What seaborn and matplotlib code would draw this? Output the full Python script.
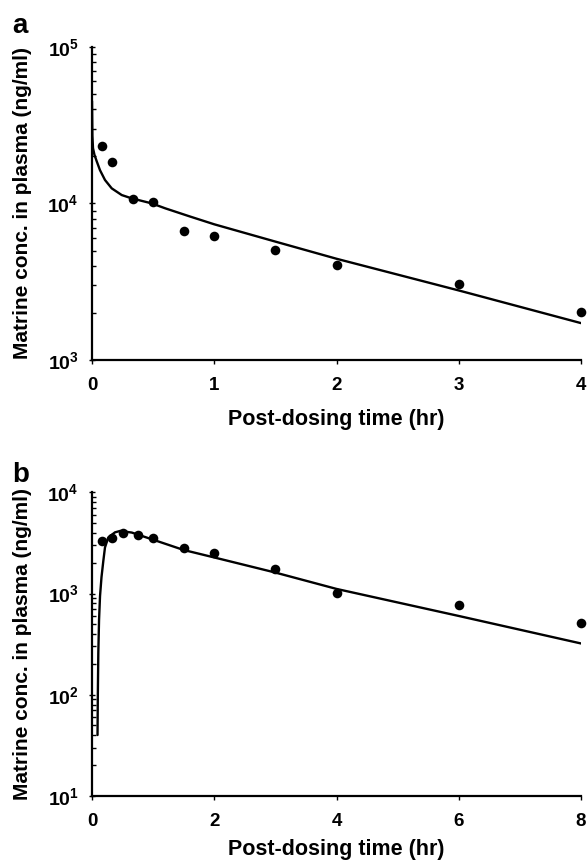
import matplotlib
matplotlib.use("Agg")
import matplotlib.pyplot as plt
import seaborn as sns
import pandas as pd
from matplotlib.ticker import LogLocator, FixedLocator, NullFormatter

# panel a: observed points and fitted curve
a_obs_time = [0.083, 0.167, 0.333, 0.5, 0.75, 1.0, 1.5, 2.0, 3.0, 4.0]
a_obs_conc = [23300, 18300, 10600, 10200, 6650, 6150, 5070, 4070, 3040, 2020]
a_fit_time = [0.0, 0.003, 0.008, 0.02, 0.038, 0.065, 0.106, 0.161, 0.243, 0.325,
              0.488, 0.6, 0.8, 1.0, 1.5, 2.0, 3.0, 4.0]
a_fit_conc = [45000, 27000, 22500, 20400, 18600, 16300, 14100, 12470, 11300, 10760,
              10000, 9290, 8250, 7350, 5700, 4430, 2780, 1720]

# panel b: observed points and fitted curve
b_obs_time = [0.167, 0.333, 0.5, 0.75, 1.0, 1.5, 2.0, 3.0, 4.0, 6.0, 8.0]
b_obs_conc = [3320, 3530, 3950, 3780, 3550, 2810, 2540, 1740, 1010, 765, 510]
b_fit_time = [0.09, 0.095, 0.103, 0.115, 0.131, 0.155, 0.185, 0.212, 0.266, 0.376,
              0.46, 0.65, 1.0, 1.5, 2.0, 3.0, 4.0, 6.0, 8.0]
b_fit_conc = [40, 100, 260, 550, 944, 1450, 2100, 2850, 3580, 4020,
              4150, 4000, 3400, 2690, 2270, 1610, 1110, 600, 321]

sns.set_style("ticks")
plt.rcParams["font.family"] = ["Liberation Sans", "DejaVu Sans"]
plt.rcParams["font.weight"] = "bold"
plt.rcParams["text.color"] = "black"
plt.rcParams["axes.labelcolor"] = "black"
plt.rcParams["mathtext.fontset"] = "custom"
plt.rcParams["mathtext.rm"] = "Liberation Sans:bold"
plt.rcParams["mathtext.bf"] = "Liberation Sans:bold"
plt.rcParams["mathtext.default"] = "bf"

fig = plt.figure(figsize=(5.88, 8.65), dpi=100)
ax_a = fig.add_axes([0.1565, 0.5838, 0.8316, 0.3622])
ax_b = fig.add_axes([0.1565, 0.0798, 0.8316, 0.3511])


def draw_panel(ax, obs_t, obs_c, fit_t, fit_c, xmax, xticks, ylim, letter, ly, xpad):
    fit = pd.DataFrame({"t": fit_t, "c": fit_c})
    obs = pd.DataFrame({"t": obs_t, "c": obs_c})
    sns.lineplot(data=fit, x="t", y="c", ax=ax, color="black", linewidth=1.7,
                 sort=False, estimator=None)
    sns.scatterplot(data=obs, x="t", y="c", ax=ax, color="black", s=48,
                    edgecolor="black", linewidth=0, clip_on=False, zorder=5)
    ax.set_yscale("log")
    ax.set_xlim(0, xmax)
    ax.set_ylim(*ylim)
    ax.xaxis.set_major_locator(FixedLocator(xticks))
    ax.yaxis.set_major_locator(LogLocator(base=10, numticks=10))
    ax.yaxis.set_minor_locator(LogLocator(base=10, subs=range(2, 10), numticks=10))
    ax.yaxis.set_minor_formatter(NullFormatter())
    sns.despine(ax=ax)
    for s in ["left", "bottom"]:
        ax.spines[s].set_linewidth(1.6)
        ax.spines[s].set_color("black")
    ax.tick_params(axis="x", which="major", direction="out", length=3, width=1,
                   pad=9, labelsize=13.5, colors="black")
    ax.tick_params(axis="y", which="major", direction="inout", length=5, width=1,
                   pad=7, labelsize=14, colors="black")
    ax.tick_params(axis="y", which="minor", direction="in", length=3, width=1,
                   colors="black")
    ax.set_xlabel("Post-dosing time (hr)", fontsize=15.5, fontweight="bold",
                  labelpad=xpad)
    ax.set_ylabel("Matrine conc. in plasma (ng/ml)", fontsize=15,
                  fontweight="bold", labelpad=11)
    ax.text(-0.164, ly, letter, transform=ax.transAxes, fontsize=20,
            fontweight="bold", ha="left", va="baseline")


draw_panel(ax_a, a_obs_time, a_obs_conc, a_fit_time, a_fit_conc,
           4, [0, 1, 2, 3, 4], (1e3, 1e5), "a", 1.044, 11)
draw_panel(ax_b, b_obs_time, b_obs_conc, b_fit_time, b_fit_conc,
           8, [0, 2, 4, 6, 8], (1e1, 1e4), "b", 1.035, 7)

fig.savefig("out.png", dpi=100)
